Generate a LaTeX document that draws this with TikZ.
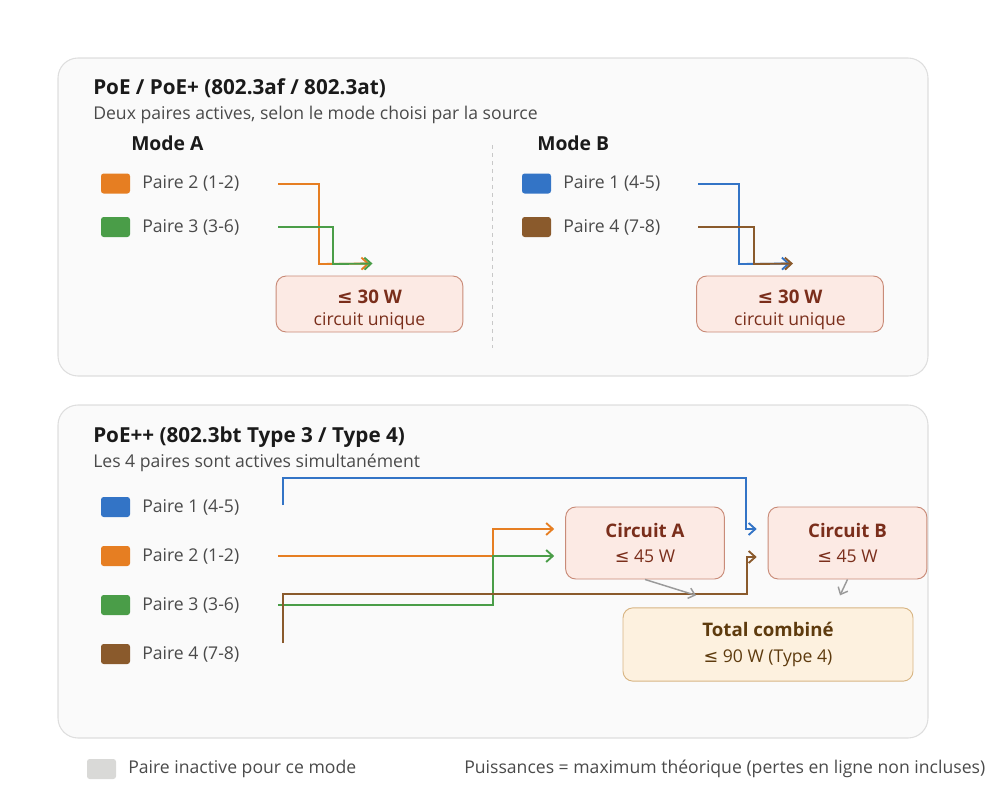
\documentclass[tikz,border=0pt]{standalone}
\usepackage{fontspec}
\setmainfont{Open Sans}
\newfontfamily\symfont{DejaVu Sans}
\newcommand{\lesym}{{\symfont ≤}}
\usetikzlibrary{arrows.meta}
\definecolor{pairBlue}{HTML}{3374C6}
\definecolor{pairOrange}{HTML}{E67E22}
\definecolor{pairGreen}{HTML}{4A9D48}
\definecolor{pairBrown}{HTML}{8A5A2C}
\definecolor{pairIdle}{HTML}{D9D9D7}
\definecolor{panelFill}{HTML}{FAFAFA}
\definecolor{panelLine}{HTML}{DEDEDE}
\definecolor{circFill}{HTML}{FCEAE4}
\definecolor{circLine}{HTML}{C98B78}
\definecolor{circText}{HTML}{7A2E1B}
\definecolor{totFill}{HTML}{FDF1DF}
\definecolor{totLine}{HTML}{D8B583}
\definecolor{totText}{HTML}{5E3B0E}
\definecolor{inkDark}{HTML}{1A1A1A}
\definecolor{inkSoft}{HTML}{4A4A4A}
\definecolor{sumArrow}{HTML}{9A9A9A}

\begin{document}
\begin{tikzpicture}[
    x=0.75pt, y=-0.75pt,
    every node/.style={font=\fontsize{13.2}{15.5}\selectfont, inner sep=0pt},
    panel/.style={draw=panelLine, fill=panelFill, line width=0.8pt, rounded corners=15pt},
    heading/.style={anchor=west, text=inkDark, font=\fontsize{14.5}{17}\selectfont\bfseries},
    title/.style={heading, font=\fontsize{15.5}{18}\selectfont\bfseries},
    subheading/.style={anchor=west, text=inkSoft},
    swatch/.style={minimum width=21.75pt, minimum height=15pt, rounded corners=2pt},
    pairlabel/.style={anchor=west, text=inkSoft},
    wire/.style={line width=1.4pt, -{Straight Barb[length=5pt,width=9pt]}},
    sumwire/.style={sumArrow, line width=1.1pt, -{Straight Barb[length=4.5pt,width=8pt]}},
    circ/.style={draw=circLine, fill=circFill, text=circText, rounded corners=7.5pt,
      line width=0.7pt, align=center},
    total/.style={draw=totLine, fill=totFill, text=totText, rounded corners=7.5pt,
      line width=0.7pt, align=center},
  ]
  \useasboundingbox (0,0) rectangle (1000,811);

  % Panels
  \draw[panel] (58,58) rectangle (928,376);
  \draw[panel] (58,405) rectangle (928,738);

  % ---- PoE / PoE+ ----
  \node[title] (topTitle) at (93,88) {PoE / PoE+ (802.3af / 802.3at)};
  \node[subheading] (topSub) at (93,115) {Deux paires actives, selon le mode choisi par la source};
  \node[heading] (modeA) at (131,143) {Mode A};
  \node[heading] (modeB) at (537,143) {Mode B};
  \draw[panelLine!90!black, dashed, line width=0.6pt] (492,145) -- (492,348);

  % Mode A
  \node[swatch, fill=pairOrange] (aSw2) at (115.5,183.5) {};
  \node[pairlabel] (aLb2) at (142,183.5) {Paire 2 (1-2)};
  \node[swatch, fill=pairGreen] (aSw3) at (115.5,227) {};
  \node[pairlabel] (aLb3) at (142,227) {Paire 3 (3-6)};
  \node[circ, minimum width=140pt, minimum height=42pt] (aBox) at (369.5,304)
    {\rule{0pt}{19pt}{\fontsize{14}{17}\selectfont\bfseries \lesym{} 30 W}\\[1pt]circuit unique};
  \coordinate (aIn2) at (278,184);
  \coordinate (aIn3) at (278,227);
  \draw[wire, pairOrange] (aIn2) -| (319,264) -- ([shift={(0,-12)}]aBox.north);
  \draw[wire, pairGreen] (aIn3) -| (333,264) -- ([shift={(3,-12)}]aBox.north);

  % Mode B
  \node[swatch, fill=pairBlue] (bSw1) at (536.5,183.5) {};
  \node[pairlabel] (bLb1) at (563,183.5) {Paire 1 (4-5)};
  \node[swatch, fill=pairBrown] (bSw4) at (536.5,227) {};
  \node[pairlabel] (bLb4) at (563,227) {Paire 4 (7-8)};
  \node[circ, minimum width=140pt, minimum height=42pt] (bBox) at (790,304)
    {\rule{0pt}{19pt}{\fontsize{14}{17}\selectfont\bfseries \lesym{} 30 W}\\[1pt]circuit unique};
  \coordinate (bIn1) at (698,184);
  \coordinate (bIn4) at (698,227);
  \draw[wire, pairBlue] (bIn1) -| (739,264) -- ([shift={(0,-12)}]bBox.north);
  \draw[wire, pairBrown] (bIn4) -| (754,264) -- ([shift={(3,-12)}]bBox.north);

  % ---- PoE++ ----
  \node[title] (botTitle) at (93,437) {PoE++ (802.3bt Type 3 / Type 4)};
  \node[subheading] (botSub) at (93,463) {Les 4 paires sont actives simultanément};

  \node[swatch, fill=pairBlue] (sw1) at (115.5,507) {};
  \node[pairlabel] (lb1) at (142,507) {Paire 1 (4-5)};
  \node[swatch, fill=pairOrange] (sw2) at (115.5,556) {};
  \node[pairlabel] (lb2) at (142,556) {Paire 2 (1-2)};
  \node[swatch, fill=pairGreen] (sw3) at (115.5,605) {};
  \node[pairlabel] (lb3) at (142,605) {Paire 3 (3-6)};
  \node[swatch, fill=pairBrown] (sw4) at (115.5,654) {};
  \node[pairlabel] (lb4) at (142,654) {Paire 4 (7-8)};

  \node[circ, minimum width=119pt, minimum height=54pt] (circA) at (645,543)
    {{\fontsize{14}{17}\selectfont\bfseries Circuit A}\\[3pt]\lesym{} 45 W};
  \node[circ, minimum width=119pt, minimum height=54pt] (circB) at (847.5,543)
    {{\fontsize{14}{17}\selectfont\bfseries Circuit B}\\[3pt]\lesym{} 45 W};
  \node[total, minimum width=217.5pt, minimum height=55pt] (tot) at (768,644.5)
    {{\fontsize{14}{17}\selectfont\bfseries Total combiné}\\[4pt]\lesym{} 90 W (Type 4)};

  \coordinate (in1) at (283,505);
  \coordinate (in2) at (278,556);
  \coordinate (in3) at (278,605);
  \coordinate (in4) at (283,643);
  \draw[wire, pairBlue] (in1) |- (746,478) |- ([shift={(-11,-14)}]circB.west);
  \draw[wire, pairOrange] (in2) -- (493,556) |- ([shift={(-11,-14)}]circA.west);
  \draw[wire, pairGreen] (in3) -- (493,605) |- ([shift={(-11,13)}]circA.west);
  \draw[wire, pairBrown] (in4) |- (747,594) |- ([shift={(-11,14)}]circB.west);

  % Sums
  \draw[sumwire] (circA.south) -- ([shift={(-72,-12)}]tot.north);
  \draw[sumwire] (circB.south) -- ([shift={(72,-12)}]tot.north);

  % Legend
  \node[swatch, fill=pairIdle] (idleSw) at (101.5,769) {};
  \node[pairlabel] (idleLb) at (128,769) {Paire inactive pour ce mode};
  \node[pairlabel] (note) at (464,769) {Puissances = maximum théorique (pertes en ligne non incluses)};
\end{tikzpicture}
\end{document}
